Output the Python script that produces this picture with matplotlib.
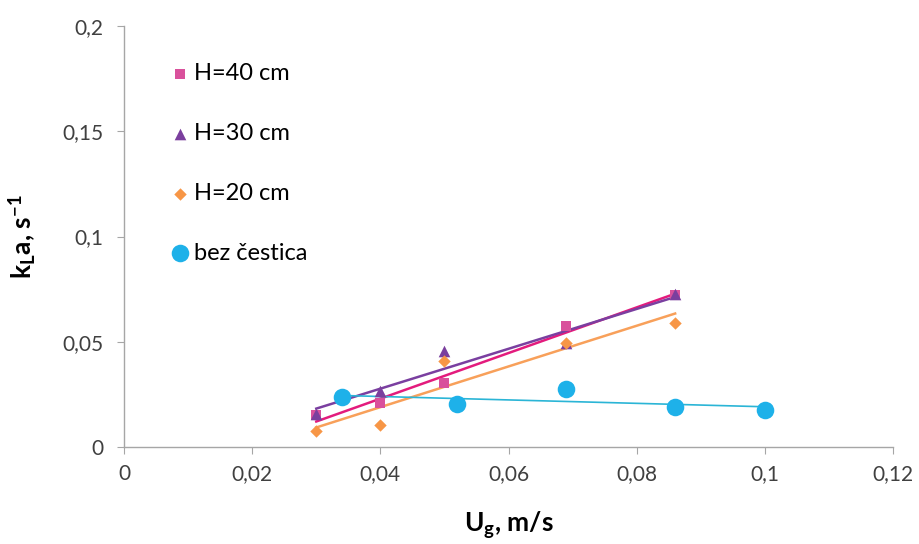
"""Plot kLa versus superficial gas velocity for several bed heights."""

from matplotlib import pyplot
import numpy

ug_h40 = [0.030, 0.040, 0.050, 0.069, 0.086]
kla_h40 = [0.0150, 0.0208, 0.0306, 0.0575, 0.0722]

ug_h30 = [0.030, 0.040, 0.050, 0.069, 0.086]
kla_h30 = [0.0155, 0.0266, 0.0456, 0.0494, 0.0725]

ug_h20 = [0.030, 0.040, 0.050, 0.069, 0.086]
kla_h20 = [0.0075, 0.0105, 0.0410, 0.0494, 0.0588]

ug_bez = [0.034, 0.052, 0.069, 0.086, 0.100]
kla_bez = [0.0239, 0.0203, 0.0276, 0.0191, 0.0176]

xticks = [0.0, 0.02, 0.04, 0.06, 0.08, 0.10, 0.12]
xticklabels = ['0', '0,02', '0,04', '0,06', '0,08', '0,1', '0,12']
yticks = [0.0, 0.05, 0.10, 0.15, 0.20]
yticklabels = ['0', '0,05', '0,1', '0,15', '0,2']

pyplot.rc('font', family=['Lato', 'DejaVu Sans'], size=13)
pyplot.rc('mathtext', fontset='custom', rm='Lato', bf='Lato:bold',
          it='Lato:italic')

fig = pyplot.figure(figsize=(9.2, 5.44), dpi=100)
ax = fig.add_axes([0.1348, 0.1783, 0.8359, 0.7739])

series = [
    (ug_h40, kla_h40, 'H=40 cm', 's', '#D9519C', '#E31B7D', 60, 1.8),
    (ug_h30, kla_h30, 'H=30 cm', '^', '#7B3F9E', '#7A3FA0', 70, 1.8),
    (ug_h20, kla_h20, 'H=20 cm', 'D', '#F79646', '#F8A05A', 40, 1.8),
    (ug_bez, kla_bez, 'bez čestica', 'o', '#1EB1E9', '#2BB5D6', 160, 1.2),
]

for x, y, label, marker, mcolor, lcolor, size, lw in series:
    x = numpy.asarray(x)
    y = numpy.asarray(y)
    ax.scatter(x, y, marker=marker, s=size, color=mcolor, label=label,
               zorder=3, linewidths=0)
    # Linear trendline spanning the measured range.
    slope, intercept = numpy.polyfit(x, y, 1)
    xs = numpy.array([x.min(), x.max()])
    ax.plot(xs, slope * xs + intercept, color=lcolor, linewidth=lw, zorder=2)

ax.set_xlim(0.0, 0.12)
ax.set_ylim(0.0, 0.2)
ax.set_xticks(xticks)
ax.set_xticklabels(xticklabels)
ax.set_yticks(yticks)
ax.set_yticklabels(yticklabels)
ax.tick_params(colors='#A6A6A6', labelcolor='#404040', length=5,
               labelsize=15, direction='out')
ax.tick_params(axis='x', pad=7)
ax.tick_params(axis='y', pad=10)
for side in ('top', 'right'):
    ax.spines[side].set_visible(False)
for side in ('left', 'bottom'):
    ax.spines[side].set_color('#A6A6A6')
    ax.spines[side].set_linewidth(1.0)

ax.set_xlabel(r'$\mathbf{U_g}$, m/s', fontsize=19, fontweight='bold',
              labelpad=19)
ax.set_ylabel(r'$\mathbf{k_L}$a, s$^{\mathbf{-1}}$', fontsize=19,
              fontweight='bold', labelpad=17)

ax.legend(loc='upper left', bbox_to_anchor=(0.045, 0.935), frameon=False,
          fontsize=17, labelspacing=1.65, handletextpad=0.1, handlelength=1.0,
          borderaxespad=0.0)

fig.savefig('out.png', dpi=100)
